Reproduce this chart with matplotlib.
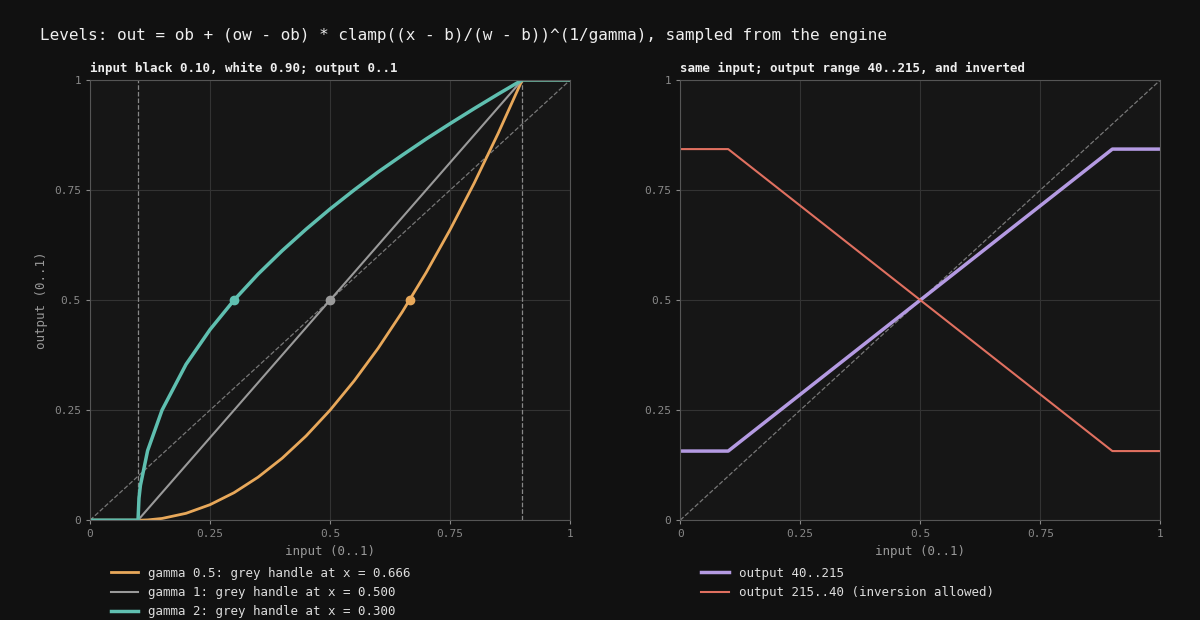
import matplotlib
matplotlib.use("Agg")
import matplotlib.pyplot as plt

# sampled curves
xs = [0, 0.1, 0.102, 0.105, 0.12, 0.15, 0.2, 0.25, 0.3, 0.35, 0.4, 0.45, 0.5, 0.55,
      0.6, 0.65, 0.7, 0.75, 0.8, 0.85, 0.9, 1.0]
g05 = [0, 0, 0, 0, 0.0006, 0.0039, 0.0156, 0.0352, 0.0625, 0.0977, 0.1406, 0.1914, 0.25,
       0.3164, 0.3906, 0.4727, 0.5625, 0.6602, 0.7656, 0.8789, 1, 1]
g1 = [0, 0, 0.0025, 0.0063, 0.025, 0.0625, 0.125, 0.1875, 0.25, 0.3125, 0.375, 0.4375, 0.5,
      0.5625, 0.625, 0.6875, 0.75, 0.8125, 0.875, 0.9375, 1, 1]
g2 = [0, 0, 0.05, 0.079, 0.158, 0.25, 0.354, 0.433, 0.5, 0.559, 0.612, 0.661, 0.707, 0.75,
      0.791, 0.829, 0.866, 0.901, 0.935, 0.968, 1, 1]
handles_x = [0.666, 0.5, 0.3]

rx = [0, 0.1, 0.9, 1.0]
out_norm = [0.157, 0.157, 0.843, 0.843]
out_inv = [0.843, 0.843, 0.157, 0.157]

BG = "#111111"
AX = "#161616"
TXT = "#bbbbbb"
ORANGE, GREY, TEAL = "#e8a85a", "#9a9a9a", "#5fbfb0"
PURPLE, RED = "#b49ae2", "#e07060"

plt.rcParams["font.family"] = "DejaVu Sans Mono"
fig, (a1, a2) = plt.subplots(1, 2, figsize=(12, 6.2), dpi=100, facecolor=BG)
fig.subplots_adjust(left=0.075, right=0.967, top=0.871, bottom=0.161, wspace=0.229)

for ax in (a1, a2):
    ax.set_facecolor(AX)
    ax.set_xlim(0, 1)
    ax.set_ylim(0, 1)
    ticks = [0, 0.25, 0.5, 0.75, 1]
    ax.set_xticks(ticks, ["0", "0.25", "0.5", "0.75", "1"])
    ax.set_yticks(ticks, ["0", "0.25", "0.5", "0.75", "1"])
    ax.tick_params(colors="#888888", labelsize=8, length=3)
    ax.grid(color="#333333", linewidth=0.8)
    for s in ax.spines.values():
        s.set_color("#555555")
    ax.plot([0, 1], [0, 1], ls="--", color="#777777", lw=0.9)
    ax.set_xlabel("input (0..1)", color="#999999", fontsize=9)

a1.axvline(0.1, ls="--", color="#888888", lw=0.9)
a1.axvline(0.9, ls="--", color="#888888", lw=0.9)
a1.plot(xs, g05, color=ORANGE, lw=2, label="gamma 0.5: grey handle at x = 0.666")
a1.plot(xs, g1, color=GREY, lw=1.5, label="gamma 1: grey handle at x = 0.500")
a1.plot(xs, g2, color=TEAL, lw=2.5, label="gamma 2: grey handle at x = 0.300")
for hx, c in zip(handles_x, [ORANGE, GREY, TEAL]):
    a1.plot([hx], [0.5], "o", color=c, ms=6)
a1.set_ylabel("output (0..1)", color="#999999", fontsize=9)
a1.set_title("input black 0.10, white 0.90; output 0..1", color="#eeeeee",
             fontsize=9, fontweight="bold", loc="left")

a2.plot(rx, out_norm, color=PURPLE, lw=2.5, label="output 40..215")
a2.plot(rx, out_inv, color=RED, lw=1.5, label="output 215..40 (inversion allowed)")
a2.set_title("same input; output range 40..215, and inverted", color="#eeeeee",
             fontsize=9, fontweight="bold", loc="left")

for ax in (a1, a2):
    leg = ax.legend(loc="upper left", bbox_to_anchor=(0.02, -0.08), frameon=False,
                    fontsize=9, labelcolor="#dddddd", handlelength=2.2)

fig.text(0.033, 0.935, "Levels: out = ob + (ow - ob) * clamp((x - b)/(w - b))^(1/gamma), sampled from the engine",
         color="#eeeeee", fontsize=11.5)
fig.savefig("out.png", facecolor=BG)
